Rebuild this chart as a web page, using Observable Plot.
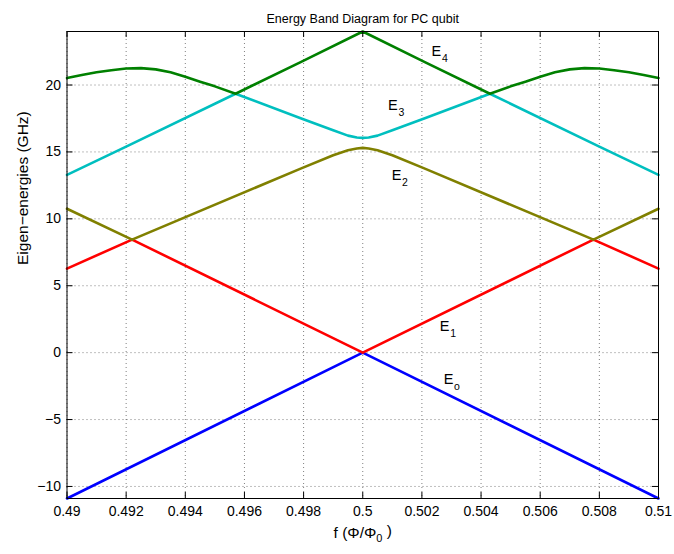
<!DOCTYPE html>
<html><head><meta charset="utf-8">
<script src="https://cdn.jsdelivr.net/npm/d3@7"></script>
<script src="https://cdn.jsdelivr.net/npm/@observablehq/plot@0.6"></script>
<style>
body{margin:0;background:#fff;}
svg{font-family:"Liberation Sans",Arial,Helvetica,sans-serif;}
</style>
</head><body><div id="chart"></div>
<script>
// Eigen-energy bands, [flux f, energy GHz]
const E0 = [[0.49,-10.9],[0.5,0],[0.51,-10.9]];
const E1 = [[0.49,6.28],[0.4922,8.45],[0.5,0],[0.5078,8.45],[0.51,6.28]];
const E2 = [[0.49,10.75],[0.4922,8.45],[0.4979,13.75],[0.499,14.75],[0.4995,15.12],[0.4998,15.26],[0.5,15.3],
            [0.5002,15.26],[0.5005,15.12],[0.501,14.75],[0.5021,13.75],[0.5078,8.45],[0.51,10.75]];
const E3 = [[0.49,13.28],[0.492,15.4],[0.4957,19.35],[0.4979,17.52],[0.499,16.62],[0.4995,16.22],[0.4998,16.08],[0.5,16.05],
            [0.5002,16.08],[0.5005,16.22],[0.501,16.62],[0.5021,17.52],[0.5043,19.35],[0.508,15.4],[0.51,13.28]];
const E4 = [[0.49,20.52],[0.4905,20.75],[0.491,20.95],[0.4915,21.11],[0.492,21.23],[0.4925,21.26],[0.493,21.17],
            [0.4935,20.95],[0.494,20.62],[0.4945,20.25],[0.495,19.9],[0.4957,19.35],[0.4979,21.71],[0.5,24.0],
            [0.5021,21.71],[0.5043,19.35],[0.505,19.9],[0.5055,20.25],[0.506,20.62],[0.5065,20.95],[0.507,21.17],
            [0.5075,21.26],[0.508,21.23],[0.5085,21.11],[0.509,20.95],[0.5095,20.75],[0.51,20.52]];
const bands = [E0, E1, E2, E3, E4];
const bandColors = ["#0000ff", "#ff0000", "#808000", "#00bfbf", "#008000"];

// band labels (subscript, position in data units)
const labelSubs = ["4", "3", "2", "1", "o"];
const labelF = [0.50249, 0.50102, 0.50114, 0.50277, 0.5029];
const labelE = [22.5, 18.47, 13.24, 1.98, -1.98];

const xTicks = [0.49,0.492,0.494,0.496,0.498,0.5,0.502,0.504,0.506,0.508,0.51];
const xTickLabels = ["0.49","0.492","0.494","0.496","0.498","0.5","0.502","0.504","0.506","0.508","0.51"];
const yTicks = [-10,-5,0,5,10,15,20];
const yTickLabels = ["−10","−5","0","5","10","15","20"];

const titleText = "Energy Band Diagram for PC qubit";
const xLabel = "f (Φ/Φ0 )";
const yLabel = "Eigen−energies (GHz)";

const labels = labelSubs.map((s, i) => ({sub: s, f: labelF[i], e: labelE[i]}));
const xFmt = new Map(xTicks.map((t, i) => [t, xTickLabels[i]]));
const yFmt = new Map(yTicks.map((t, i) => [t, yTickLabels[i]]));
const allE = bands.flat().map(d => d[1]);

const W = 674, H = 554, mL = 66.5, mR = 16, mT = 31, mB = 56;
const frameW = W - mL - mR, frameH = H - mT - mB, tick = 6;

const gridStyle = {stroke: "#000", strokeOpacity: 0.5, strokeDasharray: "1,3", strokeWidth: 1};

const plot = Plot.plot({
  width: W, height: H,
  marginLeft: mL, marginRight: mR, marginTop: mT, marginBottom: mB,
  x: {domain: [0.49, 0.51]},
  y: {domain: d3.extent(allE)},
  style: {fontFamily: "'Liberation Sans', Arial, sans-serif", fontSize: "14px", color: "#000", background: "#fff"},
  marks: [
    Plot.gridX(xTicks, gridStyle),
    Plot.gridY(yTicks, gridStyle),
    ...bands.map((b, i) => Plot.line(b, {x: d => d[0], y: d => d[1], stroke: bandColors[i], strokeWidth: 2.6})),
    Plot.tickX(xTicks, {x: d => d, insetTop: frameH - tick, stroke: "#000"}),
    Plot.tickX(xTicks, {x: d => d, insetBottom: frameH - tick, stroke: "#000"}),
    Plot.tickY(yTicks, {y: d => d, insetRight: frameW - tick, stroke: "#000"}),
    Plot.tickY(yTicks, {y: d => d, insetLeft: frameW - tick, stroke: "#000"}),
    Plot.frame({stroke: "#000", strokeWidth: 1}),
    Plot.axisX(xTicks, {tickSize: 0, tickPadding: 8, tickFormat: d => xFmt.get(d), label: null, fontSize: 14}),
    Plot.axisY(yTicks, {tickSize: 0, tickPadding: 6, tickFormat: d => yFmt.get(d), label: null, fontSize: 14}),
    Plot.text(labels, {x: "f", y: "e", text: () => "E", fontSize: 14.5}),
    Plot.text(labels, {x: "f", y: "e", text: "sub", fontSize: 10.5, dx: 8.5, dy: 7}),
    Plot.text([titleText], {frameAnchor: "top", dy: -17, fontSize: 12.5}),
    Plot.text([yLabel], {frameAnchor: "left", dx: -44, rotate: -90, fontSize: 15.5}),
    Plot.text([xLabel], {frameAnchor: "bottom", dy: 39, fontSize: 15.5})
  ]
});

// render the subscript 0 in the x-axis label
d3.select(plot).selectAll("text").filter(function() { return this.textContent === xLabel; }).each(function() {
  const t = d3.select(this);
  t.text(null);
  t.append("tspan").text("f (Φ/Φ");
  t.append("tspan").attr("font-size", 11).attr("dy", "0.4em").text("0");
  t.append("tspan").attr("dy", "-0.4em").text(" )");
});

document.getElementById("chart").appendChild(plot);
</script>
</body></html>
